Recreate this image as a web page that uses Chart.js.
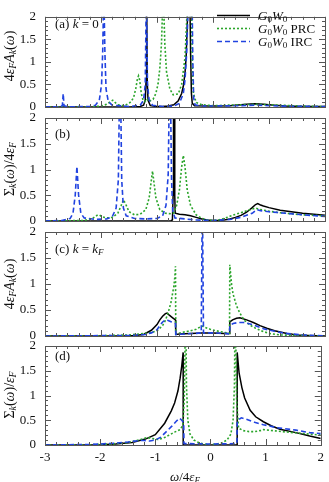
<!DOCTYPE html>
<html>
<head>
<meta charset="utf-8">
<script src="https://cdn.jsdelivr.net/npm/chart.js@4.4.1/dist/chart.umd.min.js"></script>
<style>
  body { margin: 0; background: #fff; }
  #wrap { position: relative; width: 329px; height: 482px; overflow: hidden; font-family: "Liberation Serif", "DejaVu Serif", serif; color: #111; }
  canvas { position: absolute; left: 0; top: 0; }
  .txt { position: absolute; white-space: nowrap; font-size: 13px; line-height: 1; }
  .ytitle { position: absolute; white-space: nowrap; font-size: 14px; line-height: 1; transform: translate(-50%, -50%) rotate(-90deg); }
  sub { font-size: 70%; vertical-align: -0.25em; line-height: 0; }
</style>
</head>
<body>
<div id="wrap">
  <canvas id="pa" width="329" height="482"></canvas>
  <canvas id="pb" width="329" height="482"></canvas>
  <canvas id="pc" width="329" height="482"></canvas>
  <canvas id="pd" width="329" height="482"></canvas>

  <div class="txt" style="left:55px;top:17px;">(a) <i>k</i> = 0</div>
  <div class="txt" style="left:55px;top:127px;">(b)</div>
  <div class="txt" style="left:55px;top:242px;">(c) <i>k</i> = <i>k</i><sub><i>F</i></sub></div>
  <div class="txt" style="left:55px;top:349px;">(d)</div>

  <div class="txt" style="left:258px;top:9px;"><i>G</i><sub>0</sub><i>W</i><sub>0</sub></div>
  <div class="txt" style="left:258px;top:22px;"><i>G</i><sub>0</sub><i>W</i><sub>0</sub> PRC</div>
  <div class="txt" style="left:258px;top:35px;"><i>G</i><sub>0</sub><i>W</i><sub>0</sub> IRC</div>

  <div class="ytitle" style="left:10px;top:56px;">4<i>ε</i><sub><i>F</i></sub><i>A</i><sub><i>k</i></sub>(<i>ω</i>)</div>
  <div class="ytitle" style="left:10px;top:169px;">Σ<sub><i>k</i></sub>(<i>ω</i>)/4<i>ε</i><sub><i>F</i></sub></div>
  <div class="ytitle" style="left:10px;top:284px;">4<i>ε</i><sub><i>F</i></sub><i>A</i><sub><i>k</i></sub>(<i>ω</i>)</div>
  <div class="ytitle" style="left:10px;top:395px;">Σ<sub><i>k</i></sub>(<i>ω</i>)/<i>ε</i><sub><i>F</i></sub></div>

  <div class="txt" style="left:185px;top:470px;transform:translateX(-50%);"><i>ω</i>/4<i>ε</i><sub><i>F</i></sub></div>
</div>

<script>
// axis ticks
const xTickValues = [-3, -2, -1, 0, 1, 2];
const yTickValues = [0, 0.5, 1, 1.5, 2];
const seriesNames = ['G0W0', 'G0W0 PRC', 'G0W0 IRC'];

// (a) k = 0, spectral function
const aG0W0X = [-3, -1.5, -1.3, -1.24, -1.21, -1.195, -1.185, -1.175, -1.16, -1.12, -1.0, -0.9, -0.8, -0.7, -0.62, -0.56, -0.53, -0.5, -0.48, -0.46, -0.44, -0.42, -0.4, -0.385, -0.37, -0.33, 0, 0.3, 0.6, 0.75, 0.9, 1.1, 1.3, 1.6, 2];
const aG0W0Y = [0, 0, 0.01, 0.04, 0.15, 0.6, 2.6, 0.6, 0.15, 0.03, 0.01, 0.01, 0.02, 0.05, 0.14, 0.3, 0.46, 0.75, 1.1, 1.8, 3, 3, 1.2, 0.3, 0.08, 0.03, 0.02, 0.03, 0.06, 0.07, 0.06, 0.04, 0.02, 0.01, 0.01];
const aPrcX = [-3, -2.2, -2.0, -1.9, -1.83, -1.79, -1.75, -1.7, -1.62, -1.55, -1.48, -1.42, -1.38, -1.35, -1.33, -1.31, -1.28, -1.25, -1.22, -1.18, -1.15, -1.07, -1.02, -0.98, -0.95, -0.92, -0.89, -0.86, -0.83, -0.77, -0.71, -0.62, -0.56, -0.5, -0.47, -0.45, -0.42, -0.39, -0.37, -0.35, -0.3, -0.2, 0, 0.5, 0.8, 1.2, 1.6, 2];
const aPrcY = [0, 0.005, 0.02, 0.06, 0.12, 0.15, 0.1, 0.05, 0.03, 0.05, 0.1, 0.2, 0.4, 0.62, 0.69, 0.6, 0.3, 0.15, 0.12, 0.18, 0.12, 0.17, 0.3, 0.52, 0.85, 1.4, 2.6, 1.4, 0.78, 0.4, 0.27, 0.29, 0.5, 1.1, 1.9, 3, 3, 3, 1.0, 0.3, 0.1, 0.05, 0.03, 0.05, 0.06, 0.04, 0.02, 0.01];
const aIrcX = [-3, -2.75, -2.69, -2.675, -2.66, -2.6, -2.2, -2.1, -2.03, -1.99, -1.97, -1.95, -1.93, -1.91, -1.87, -1.8, -1.5, -1.3, -1.24, -1.21, -1.19, -1.17, -1.14, -1.08, -0.9, -0.7, -0.6, -0.53, -0.5, -0.47, -0.45, -0.43, -0.38, -0.36, -0.345, -0.32, -0.2, 0.5, 0.8, 1.2, 2];
const aIrcY = [0, 0.005, 0.03, 0.3, 0.03, 0.005, 0.01, 0.04, 0.15, 0.5, 1.2, 2.6, 1.2, 0.4, 0.12, 0.04, 0.01, 0.04, 0.15, 0.5, 2.6, 0.5, 0.15, 0.04, 0.01, 0.02, 0.08, 0.3, 0.6, 1.2, 2, 3, 3, 1.0, 0.2, 0.05, 0.02, 0.03, 0.04, 0.02, 0.01];

// (b) k = 0, self-energy
const bG0W0X = [-3, -0.75, -0.725, -0.712, -0.705, -0.69, -0.683, -0.675, -0.6, -0.5, -0.4, -0.3, -0.2, -0.1, 0, 0.1, 0.2, 0.3, 0.4, 0.5, 0.6, 0.7, 0.76, 0.8, 0.85, 0.9, 1.0, 1.2, 1.4, 1.6, 1.8, 2];
const bG0W0Y = [0, 0.005, 0.02, 0.5, 3, 3, 0.5, 0.15, 0.13, 0.12, 0.1, 0.07, 0.04, 0.02, 0.01, 0.01, 0.02, 0.04, 0.07, 0.11, 0.17, 0.26, 0.32, 0.34, 0.31, 0.29, 0.26, 0.21, 0.18, 0.15, 0.13, 0.11];
const bPrcX = [-3, -2.3, -2.15, -2.07, -2.03, -1.98, -1.9, -1.8, -1.7, -1.64, -1.6, -1.56, -1.5, -1.4, -1.3, -1.2, -1.14, -1.1, -1.08, -1.06, -1.02, -0.95, -0.85, -0.75, -0.7, -0.65, -0.6, -0.56, -0.53, -0.5, -0.46, -0.4, -0.3, -0.2, -0.1, 0, 0.1, 0.2, 0.3, 0.4, 0.5, 0.6, 0.7, 0.76, 0.82, 0.9, 1.0, 1.2, 1.4, 1.6, 1.8, 2];
const bPrcY = [0, 0.01, 0.05, 0.11, 0.12, 0.08, 0.06, 0.07, 0.15, 0.3, 0.41, 0.33, 0.18, 0.12, 0.13, 0.22, 0.45, 0.8, 0.97, 0.8, 0.45, 0.22, 0.15, 0.14, 0.16, 0.3, 0.6, 1.05, 1.27, 1.05, 0.6, 0.3, 0.12, 0.05, 0.02, 0.01, 0.02, 0.05, 0.09, 0.13, 0.16, 0.2, 0.23, 0.25, 0.23, 0.21, 0.19, 0.16, 0.14, 0.12, 0.11, 0.1];
const bIrcX = [-3, -2.7, -2.55, -2.5, -2.46, -2.43, -2.4, -2.36, -2.3, -2.1, -1.9, -1.8, -1.73, -1.69, -1.67, -1.65, -1.63, -1.6, -1.55, -1.4, -1.2, -1.0, -0.9, -0.84, -0.8, -0.78, -0.76, -0.74, -0.72, -0.68, -0.5, -0.3, 0, 0.3, 0.5, 0.7, 0.78, 0.85, 1.0, 1.3, 1.6, 2];
const bIrcY = [0, 0.01, 0.05, 0.15, 0.5, 1.06, 0.5, 0.15, 0.06, 0.03, 0.04, 0.08, 0.25, 0.8, 2.5, 2.5, 0.8, 0.25, 0.1, 0.05, 0.04, 0.05, 0.1, 0.3, 0.9, 2.5, 2.5, 0.8, 0.2, 0.06, 0.04, 0.02, 0.01, 0.03, 0.07, 0.15, 0.22, 0.2, 0.18, 0.15, 0.12, 0.09];

// (c) k = kF, spectral function
const cG0W0X = [-3, -1.6, -1.4, -1.24, -1.1, -1.0, -0.95, -0.9, -0.85, -0.82, -0.78, -0.72, -0.67, -0.665, -0.6, -0.4, -0.2, 0, 0.2, 0.295, 0.3, 0.35, 0.42, 0.48, 0.6, 0.72, 0.84, 0.96, 1.1, 1.32, 1.5, 1.7, 2];
const cG0W0Y = [0, 0, 0.01, 0.03, 0.11, 0.22, 0.31, 0.38, 0.43, 0.44, 0.4, 0.35, 0.31, 0.03, 0.04, 0.05, 0.06, 0.06, 0.05, 0.05, 0.27, 0.31, 0.34, 0.35, 0.31, 0.26, 0.2, 0.15, 0.1, 0.05, 0.02, 0.01, 0];
const cPrcX = [-3, -2, -1.5, -1.3, -1.1, -1.0, -0.9, -0.85, -0.8, -0.75, -0.7, -0.68, -0.67, -0.665, -0.55, -0.4, -0.3, -0.22, -0.19, -0.15, -0.05, 0.1, 0.2, 0.295, 0.3, 0.33, 0.36, 0.42, 0.48, 0.56, 0.66, 0.76, 0.86, 1.0, 1.2, 1.5, 2];
const cPrcY = [0, 0.005, 0.02, 0.04, 0.07, 0.1, 0.2, 0.3, 0.45, 0.65, 0.95, 1.15, 1.34, 0.04, 0.07, 0.1, 0.13, 0.18, 0.19, 0.17, 0.13, 0.09, 0.07, 0.05, 1.37, 1.0, 0.8, 0.58, 0.44, 0.3, 0.21, 0.15, 0.1, 0.05, 0.02, 0.01, 0];
const cIrcX = [-3, -1.5, -1.2, -1.1, -1.0, -0.95, -0.9, -0.85, -0.8, -0.74, -0.67, -0.665, -0.5, -0.3, -0.21, -0.192, -0.188, -0.17, 0, 0.2, 0.295, 0.3, 0.36, 0.45, 0.55, 0.7, 0.9, 1.1, 1.3, 1.6, 2];
const cIrcY = [0, 0.01, 0.03, 0.06, 0.12, 0.2, 0.27, 0.31, 0.3, 0.27, 0.24, 0.03, 0.04, 0.05, 0.06, 2.5, 2.5, 0.06, 0.06, 0.05, 0.04, 0.2, 0.24, 0.26, 0.26, 0.22, 0.14, 0.09, 0.05, 0.02, 0];

// (d) k = kF, self-energy
const dG0W0X = [-3, -2, -1.72, -1.42, -1.18, -1.0, -0.83, -0.71, -0.65, -0.59, -0.55, -0.52, -0.495, -0.494, 0.484, 0.485, 0.52, 0.57, 0.62, 0.72, 0.82, 0.96, 1.1, 1.26, 1.55, 1.8, 2];
const dG0W0Y = [0, 0.005, 0.02, 0.05, 0.12, 0.21, 0.44, 0.69, 0.85, 1.09, 1.35, 1.6, 1.87, 0, 0, 1.87, 1.45, 1.16, 0.95, 0.7, 0.57, 0.47, 0.39, 0.32, 0.25, 0.18, 0.13];
const dPrcX = [-3, -2.2, -1.8, -1.5, -1.3, -1.15, -1.05, -0.95, -0.85, -0.75, -0.65, -0.55, -0.5, -0.475, -0.455, -0.445, -0.435, -0.41, -0.37, -0.3, -0.2, -0.1, 0, 0.1, 0.2, 0.3, 0.37, 0.41, 0.435, 0.445, 0.455, 0.475, 0.51, 0.6, 0.7, 0.8, 0.9, 0.96, 1.05, 1.3, 1.6, 2];
const dPrcY = [0, 0.005, 0.02, 0.05, 0.1, 0.15, 0.13, 0.11, 0.14, 0.2, 0.26, 0.31, 0.4, 0.9, 2.5, 2.5, 1.2, 0.5, 0.22, 0.1, 0.04, 0.015, 0.01, 0.015, 0.04, 0.1, 0.22, 0.5, 1.2, 2.5, 2.5, 0.9, 0.34, 0.29, 0.27, 0.27, 0.29, 0.31, 0.3, 0.27, 0.24, 0.2];
const dIrcX = [-3, -2.2, -2, -1.7, -1.5, -1.3, -1.2, -1.1, -1.0, -0.9, -0.8, -0.7, -0.62, -0.56, -0.52, -0.485, -0.48, -0.3, 0, 0.3, 0.48, 0.485, 0.52, 0.56, 0.65, 0.8, 0.96, 1.2, 1.55, 1.8, 2];
const dIrcY = [0, 0.01, 0.02, 0.04, 0.06, 0.09, 0.09, 0.08, 0.1, 0.16, 0.27, 0.38, 0.48, 0.54, 0.5, 0.45, 0.03, 0.025, 0.02, 0.025, 0.03, 0.45, 0.52, 0.55, 0.52, 0.46, 0.41, 0.35, 0.3, 0.25, 0.23];

// plot area of each panel (top, bottom) in page pixels
const panelBox = [[4, 107], [118, 221], [232, 336], [346, 445]];

const lineStyles = [
  { color: '#000000', dash: [], width: 1.5, order: 3 },
  { color: '#2ba52b', dash: [2, 2], width: 1.6, order: 2 },
  { color: '#2143e0', dash: [5, 3], width: 1.6, order: 1 }
];

function toPoints(xs, ys) {
  return xs.map((x, i) => ({ x: x, y: ys[i] }));
}

// inward ticks on all four sides + frame
const frameTicks = {
  id: 'frameTicks',
  afterDatasetsDraw(chart) {
    const { ctx, chartArea: a } = chart;
    const xs = chart.scales.x, ys = chart.scales.y;
    ctx.save();
    ctx.strokeStyle = '#555';
    ctx.lineWidth = 1;
    ctx.beginPath();
    for (let i = 0; i <= 25; i++) {
      const px = Math.round(xs.getPixelForValue(-3 + i * 0.2)) + 0.5;
      const len = i % 5 === 0 ? 6 : 3;
      ctx.moveTo(px, a.bottom); ctx.lineTo(px, a.bottom - len);
      ctx.moveTo(px, a.top); ctx.lineTo(px, a.top + len);
    }
    for (let j = 0; j <= 20; j++) {
      const py = Math.round(ys.getPixelForValue(j * 0.1)) + 0.5;
      const len = j % 5 === 0 ? 6 : 3;
      ctx.moveTo(a.left, py); ctx.lineTo(a.left + len, py);
      ctx.moveTo(a.right, py); ctx.lineTo(a.right - len, py);
    }
    ctx.stroke();
    ctx.strokeRect(Math.round(a.left) + 0.5, Math.round(a.top) + 0.5, Math.round(a.right - a.left), Math.round(a.bottom - a.top));
    ctx.restore();
  }
};

// legend samples for panel (a)
const legendLines = {
  id: 'legendLines',
  afterDraw(chart) {
    if (!chart.options.plugins.legendLines.show) return;
    const ctx = chart.ctx;
    const rows = [15.5, 28.5, 41.5];
    ctx.save();
    chart.data.datasets.forEach((ds, i) => {
      ctx.strokeStyle = ds.borderColor;
      ctx.lineWidth = ds.borderWidth;
      ctx.setLineDash(ds.borderDash);
      ctx.beginPath();
      ctx.moveTo(217, rows[i]);
      ctx.lineTo(250, rows[i]);
      ctx.stroke();
    });
    ctx.restore();
  }
};

function makePanel(id, idx, sets, showX, showLegend) {
  const box = panelBox[idx];
  const xAxisH = showX ? 22 : 0;
  const datasets = sets.map((s, i) => ({
    label: seriesNames[i],
    data: toPoints(s[0], s[1]),
    borderColor: lineStyles[i].color,
    borderDash: lineStyles[i].dash,
    borderWidth: lineStyles[i].width,
    order: lineStyles[i].order,
    pointRadius: 0,
    fill: false,
    tension: 0
  }));
  return new Chart(document.getElementById(id), {
    type: 'line',
    data: { datasets: datasets },
    options: {
      responsive: false,
      animation: false,
      events: [],
      layout: { padding: { top: box[0], bottom: 482 - box[1] - xAxisH, left: 0, right: 4 } },
      plugins: {
        legend: { display: false },
        tooltip: { enabled: false },
        legendLines: { show: showLegend }
      },
      scales: {
        x: {
          type: 'linear',
          min: -3, max: 2,
          display: showX,
          grid: { display: false, drawTicks: false },
          border: { display: false },
          afterBuildTicks: function(scale) { scale.ticks = xTickValues.map(v => ({ value: v })); },
          afterFit: function(scale) { scale.height = xAxisH; },
          ticks: { padding: 5, color: '#111', font: { family: 'Liberation Serif', size: 13 }, maxRotation: 0,
                   callback: function(value) { return String(value); } }
        },
        y: {
          min: 0, max: 2,
          grid: { display: false, drawTicks: false },
          border: { display: false },
          afterBuildTicks: function(scale) { scale.ticks = yTickValues.map(v => ({ value: v })); },
          afterFit: function(scale) { scale.width = 45; },
          ticks: { padding: 9, color: '#111', font: { family: 'Liberation Serif', size: 13 },
                   callback: function(value) { return String(value); } }
        }
      }
    },
    plugins: [frameTicks, legendLines]
  });
}

makePanel('pa', 0, [[aG0W0X, aG0W0Y], [aPrcX, aPrcY], [aIrcX, aIrcY]], false, true);
makePanel('pb', 1, [[bG0W0X, bG0W0Y], [bPrcX, bPrcY], [bIrcX, bIrcY]], false, false);
makePanel('pc', 2, [[cG0W0X, cG0W0Y], [cPrcX, cPrcY], [cIrcX, cIrcY]], false, false);
makePanel('pd', 3, [[dG0W0X, dG0W0Y], [dPrcX, dPrcY], [dIrcX, dIrcY]], true, false);
</script>
</body>
</html>
